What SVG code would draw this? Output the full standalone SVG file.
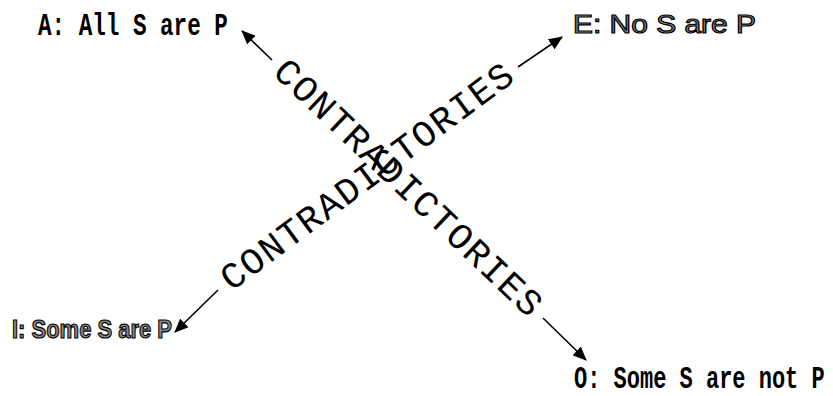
<svg xmlns="http://www.w3.org/2000/svg" width="833" height="396" viewBox="0 0 833 396">
<defs>
<marker id="ah" viewBox="0 0 14 12" refX="13" refY="6" markerWidth="14" markerHeight="12" markerUnits="userSpaceOnUse" orient="auto">
<path d="M0,0 L14,6 L0,12 z" fill="#000"/>
</marker>
<style>
.mono{font-family:"Liberation Mono","DejaVu Sans Mono",monospace;font-weight:bold;font-size:22px;fill:#000}
.sans{font-family:"Liberation Sans",Arial,sans-serif;font-size:26px;fill:#888;stroke:#000;stroke-width:1.2px}
.diag{font-family:"Liberation Mono","DejaVu Sans Mono",monospace;font-size:37px;fill:#000}
.conn{stroke:#000;stroke-width:1.6;fill:none}
</style>
</defs>
<rect width="833" height="396" fill="#fff"/>
<g id="node-A"><text class="mono" transform="translate(38,35) scale(1,1.4)" style="font-size:22.6px">A: All S are P</text></g>
<g id="node-E"><text class="sans" x="573" y="33" textLength="183" lengthAdjust="spacingAndGlyphs">E: No S are P</text></g>
<g id="node-I"><text class="sans" x="12" y="338" textLength="160" lengthAdjust="spacingAndGlyphs" style="font-weight:bold">I: Some S are P</text></g>
<g id="node-O"><text class="mono" transform="translate(574,388) scale(1,1.4)">O: Some S are not P</text></g>
<g id="connectors">
<line class="conn" x1="272" y1="60" x2="242" y2="31" marker-end="url(#ah)"/>
<line class="conn" x1="543" y1="318" x2="586" y2="360" marker-end="url(#ah)"/>
<line class="conn" x1="218" y1="290" x2="175" y2="332" marker-end="url(#ah)"/>
<line class="conn" x1="518" y1="67" x2="562" y2="37" marker-end="url(#ah)"/>
<text class="diag" transform="translate(407,189) rotate(43.6)" text-anchor="middle" dominant-baseline="central" textLength="355" lengthAdjust="spacing">CONTRADICTORIES</text>
<text class="diag" transform="translate(368,178) rotate(-36.6)" text-anchor="middle" dominant-baseline="central" textLength="355" lengthAdjust="spacing">CONTRADICTORIES</text>
</g>
</svg>
